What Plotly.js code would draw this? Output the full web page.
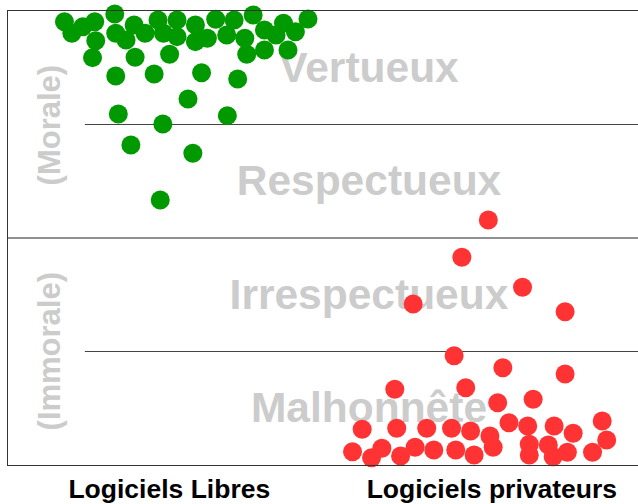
<!DOCTYPE html>
<html>
<head>
<meta charset="utf-8">
<script src="https://cdn.plot.ly/plotly-3.0.1.min.js"></script>
<style>html,body{margin:0;padding:0;background:#fff;overflow:hidden;}#chart{width:638px;height:504px;}</style>
</head>
<body>
<div id="chart"></div>
<script>
// Categories (x axis)
const categories = ['Logiciels Libres', 'Logiciels privateurs'];

// Moral levels (y axis, 0 = bottom, 4 = top)
const levelLabels = ['Malhonnête', 'Irrespectueux', 'Respectueux', 'Vertueux'];
const levelValues = [0.5, 1.5, 2.5, 3.5];
const groupLabels = ['(Immorale)', '(Morale)'];
const groupValues = [1, 3];

// Logiciels Libres: jittered position around category 0, moral score
const libresX = [-0.325,-0.302,-0.268,-0.231,-0.228,-0.169,-0.166,-0.134,-0.109,-0.075,-0.035,-0.018,0.024,0.024,0.081,0.081,0.118,0.144,0.178,0.201,0.234,0.260,0.295,0.331,0.354,0.391,0.430,-0.238,-0.106,0.001,0.240,0.295,0.368,-0.166,-0.047,0.100,0.212,0.058,-0.158,0.180,-0.020,-0.119,0.073,-0.028];
const libresY = [3.906,3.804,3.862,3.906,3.738,3.974,3.804,3.744,3.877,3.804,3.921,3.804,3.921,3.774,3.877,3.730,3.760,3.927,3.789,3.921,3.760,3.965,3.833,3.789,3.892,3.818,3.930,3.589,3.592,3.619,3.619,3.656,3.656,3.427,3.445,3.456,3.401,3.225,3.093,3.078,3.004,2.819,2.746,2.335];

// Logiciels privateurs: jittered position around category 1, moral score
const privX = [-0.011,-0.093,0.095,-0.244,0.227,-0.117,0.034,0.227,-0.301,-0.081,0.128,0.018,0.053,-0.402,-0.295,-0.202,-0.125,-0.066,-0.006,0.111,0.193,0.252,0.342,0.356,-0.432,-0.373,-0.341,-0.283,-0.238,-0.180,-0.112,-0.055,0.004,0.116,0.116,0.175,0.190,0.234,0.312];
const privY = [2.159,1.830,1.566,1.419,1.351,0.963,0.857,0.802,0.667,0.681,0.579,0.549,0.373,0.315,0.323,0.323,0.323,0.300,0.256,0.344,0.344,0.279,0.388,0.220,0.117,0.064,0.147,0.079,0.156,0.132,0.132,0.088,0.156,0.182,0.088,0.176,0.073,0.112,0.112];

const labelX = 0.619;
const labelDrop = 0.03;
const groupX = -0.37;

const traces = [
  {
    type: 'scatter', mode: 'text',
    x: levelValues.map(() => labelX), y: levelValues.map(v => v - labelDrop),
    text: levelLabels, textposition: 'middle center',
    textfont: {family: 'Liberation Sans, Arial, sans-serif', size: 42.5, color: '#cccccc', weight: 'bold'},
    hoverinfo: 'skip', cliponaxis: false
  },
  {
    type: 'scatter', mode: 'markers',
    x: libresX.map(d => 0 + d), y: libresY,
    marker: {color: '#009900', size: 19, line: {width: 0}},
    cliponaxis: false
  },
  {
    type: 'scatter', mode: 'markers',
    x: privX.map(d => 1 + d), y: privY,
    marker: {color: '#ff3333', size: 19, line: {width: 0}},
    cliponaxis: false
  }
];

const shapes = [
  {type: 'line', xref: 'paper', yref: 'y', x0: 0.122, x1: 1, y0: 3, y1: 3, line: {color: '#444', width: 1}, layer: 'below'},
  {type: 'line', xref: 'paper', yref: 'y', x0: 0, x1: 1, y0: 2, y1: 2, line: {color: '#222', width: 1}, layer: 'below'},
  {type: 'line', xref: 'paper', yref: 'y', x0: 0.122, x1: 1, y0: 1, y1: 1, line: {color: '#444', width: 1}, layer: 'below'}
];

const annotations = groupLabels.map((t, i) => ({
  x: groupX, y: groupValues[i], xref: 'x', yref: 'y',
  text: t, showarrow: false, textangle: -90,
  font: {family: 'Liberation Sans, Arial, sans-serif', size: 31, color: '#cccccc', weight: 'bold'}
}));

const layout = {
  width: 638, height: 504,
  margin: {l: 8, r: 0, t: 11, b: 39, pad: 0},
  paper_bgcolor: '#fff', plot_bgcolor: '#fff',
  showlegend: false, hovermode: false,
  xaxis: {
    range: [-0.5, 1.453], tickvals: [0, 1], ticktext: categories,
    showgrid: false, zeroline: false, ticks: '',
    showline: true, mirror: true, linecolor: '#333', linewidth: 1,
    ticklabelstandoff: 0,
    tickfont: {family: 'Liberation Sans, Arial, sans-serif', size: 26.5, color: '#000', weight: 'bold'},
    fixedrange: true
  },
  yaxis: {
    range: [0, 4], showticklabels: false, showgrid: false, zeroline: false, ticks: '',
    showline: true, mirror: false, linecolor: '#333', linewidth: 1, fixedrange: true
  },
  shapes: shapes,
  annotations: annotations
};

Plotly.newPlot('chart', traces, layout, {displayModeBar: false, staticPlot: true});
</script>
</body>
</html>
